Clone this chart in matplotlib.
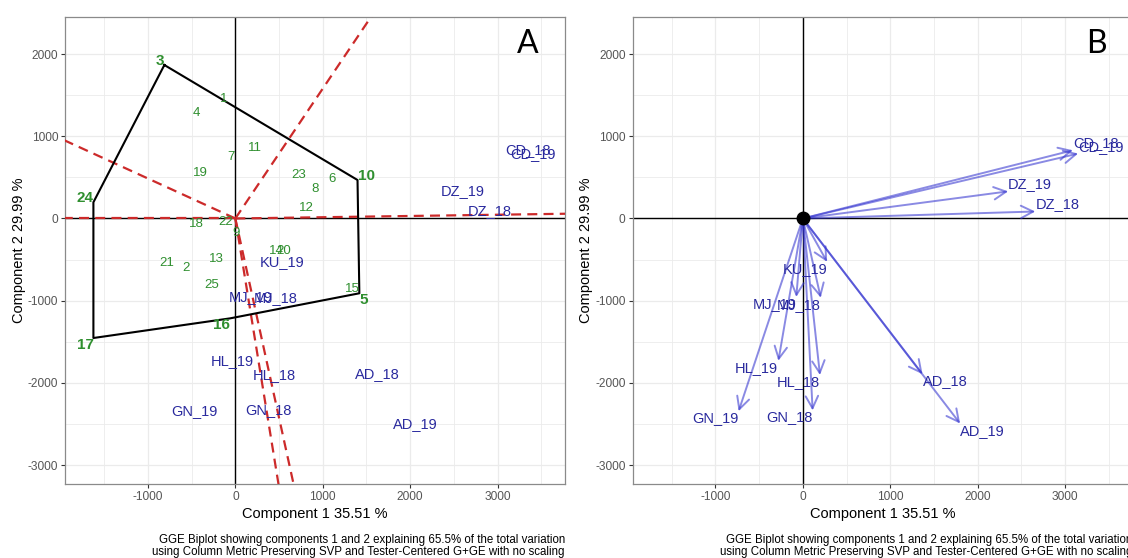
import matplotlib
matplotlib.use('Agg')
import matplotlib.pyplot as plt
import numpy as np

plt.rcParams['font.family'] = ['Liberation Sans', 'DejaVu Sans']
plt.rcParams['axes.unicode_minus'] = False

# ---------------- data ----------------
gen_labels = ['1', '2', '3', '4', '5', '6', '7', '8', '9', '10', '11', '12', '13',
              '14', '15', '16', '17', '18', '19', '20', '21', '22', '23', '24', '25']
gen_pc1 = [-129, -567, -812, -450, 1419, 1103, -53, 912, 8, 1398, 225, 809, -213,
           466, 1343, -60, -1624, -450, -404, 557, -785, -106, 721, -1624, -270]
gen_pc2 = [1450, -606, 1867, 1280, -910, 477, 752, 355, -173, 468, 854, 131, -496,
           -392, -861, -1215, -1454, -67, 557, -392, -545, -39, 529, 197, -809]
hull_order = ['3', '10', '5', '16', '17', '24']

env_labels = ['CD_18', 'CD_19', 'DZ_19', 'DZ_18', 'KU_19', 'MJ_19', 'MJ_18',
              'HL_19', 'HL_18', 'GN_19', 'GN_18', 'AD_18', 'AD_19']
env_pc1 = [3090, 3150, 2350, 2660, 278, -75, 205, -280, 196, -735, 112, 1370, 1800]
env_pc2 = [830, 790, 330, 85, -528, -955, -965, -1732, -1905, -2345, -2335, -1895, -2495]

xticks = [-1000, 0, 1000, 2000, 3000]
yticks = [-3000, -2000, -1000, 0, 1000, 2000]
xlabel = 'Component 1 35.51 %'
ylabel = 'Component 2 29.99 %'
caption = ('GGE Biplot showing components 1 and 2 explaining 65.5% of the total variation\n'
           'using Column Metric Preserving SVP and Tester-Centered G+GE with no scaling')
panel_tags = ['A', 'B']

# ---------------- style ----------------
W, H = 1128, 558
XLIM = (-1949, 3772)
YLIM = (-3230, 2451)
GREEN = '#2f8f2f'
ENVTXT = '#2a2a9e'
ARROW = '#3535d0'
RED = '#cc2a2a'

fig = plt.figure(figsize=(W / 100, H / 100), dpi=100)
bottom = 1 - 484 / H
height = (484 - 17) / H
axA = fig.add_axes([65 / W, bottom, 500 / W, height])
axB = fig.add_axes([632.5 / W, bottom, 500 / W, height])


def style_axes(ax):
    ax.set_xlim(*XLIM)
    ax.set_ylim(*YLIM)
    ax.set_xticks(xticks)
    ax.set_yticks(yticks)
    ax.set_xticks(np.arange(-1500, 3800, 1000), minor=True)
    ax.set_yticks(np.arange(-2500, 2500, 1000), minor=True)
    ax.grid(True, which='major', color='#ebebeb', lw=0.9)
    ax.grid(True, which='minor', color='#ebebeb', lw=0.6)
    ax.set_axisbelow(True)
    ax.tick_params(which='major', length=3, width=0.8, color='#333333',
                   labelcolor='#555555', labelsize=8.6, pad=2)
    ax.tick_params(which='minor', length=0)
    for s in ax.spines.values():
        s.set_color('#8a8a8a')
        s.set_linewidth(0.9)
    ax.set_xlabel(xlabel, fontsize=10.5, labelpad=3)
    ax.set_ylabel(ylabel, fontsize=10.5, labelpad=1.5)
    ax.axhline(0, color='black', lw=1.0, zorder=1)
    ax.axvline(0, color='black', lw=1.0, zorder=1)


style_axes(axA)
style_axes(axB)

xc = (XLIM[0] + XLIM[1]) / 2
yc = (YLIM[0] + YLIM[1]) / 2

gx = dict(zip(gen_labels, gen_pc1))
gy = dict(zip(gen_labels, gen_pc2))

# ---- Panel A: which-won-where ----
hx = [gx[g] for g in hull_order] + [gx[hull_order[0]]]
hy = [gy[g] for g in hull_order] + [gy[hull_order[0]]]

# perpendicular rays from the origin to each polygon side
for i in range(len(hull_order)):
    p1 = np.array([hx[i], hy[i]], float)
    p2 = np.array([hx[i + 1], hy[i + 1]], float)
    d = p2 - p1
    t = -np.dot(p1, d) / np.dot(d, d)
    foot = p1 + t * d
    u = foot / np.linalg.norm(foot)
    axA.plot([0, u[0] * 20000], [0, u[1] * 20000], color=RED, lw=1.6,
             ls=(0, (4.5, 2.8)), zorder=3)

axA.plot(hx, hy, color='black', lw=1.5, zorder=4)

for g, x, y in zip(gen_labels, gen_pc1, gen_pc2):
    if g in hull_order:
        ha = 'left' if x > xc else 'right'
        va = 'baseline' if y > yc else 'top'
        axA.text(x, y, g, color=GREEN, fontsize=11, fontweight='bold',
                 ha=ha, va=va, zorder=6)
    else:
        axA.text(x, y, g, color=GREEN, fontsize=9.5, ha='center', va='center', zorder=6)

for e, x, y in zip(env_labels, env_pc1, env_pc2):
    axA.text(x, y, e, color=ENVTXT, fontsize=10.5, ha='left', va='center', zorder=6)

# ---- Panel B: environment vectors ----
for e, x, y in zip(env_labels, env_pc1, env_pc2):
    axB.annotate('', xy=(x, y), xytext=(0, 0),
                 arrowprops=dict(arrowstyle='->,head_length=0.55,head_width=0.28',
                                 color=ARROW, lw=1.4, alpha=0.58,
                                 shrinkA=0, shrinkB=0, mutation_scale=16),
                 zorder=4)
    ha = 'left' if x > xc else 'right'
    va = 'bottom' if y > yc else 'top'
    axB.text(x, y, e, color=ENVTXT, fontsize=10.5, ha=ha, va=va, zorder=6)

axB.plot([0], [0], 'o', color='black', ms=9, zorder=7)

# panel tags and captions
fig.text(528 / W, 1 - 44 / H, panel_tags[0], fontsize=23, family='Lato',
         ha='center', va='center')
fig.text(1096 / W, 1 - 44 / H, panel_tags[1], fontsize=23, family='Lato',
         ha='center', va='center')
fig.text(565 / W, 1 - 533.5 / H, caption, fontsize=8.3, ha='right', va='top',
         linespacing=1.0)
fig.text(1132.5 / W, 1 - 533.5 / H, caption, fontsize=8.3, ha='right', va='top',
         linespacing=1.0)

fig.savefig('out.png', dpi=100)
